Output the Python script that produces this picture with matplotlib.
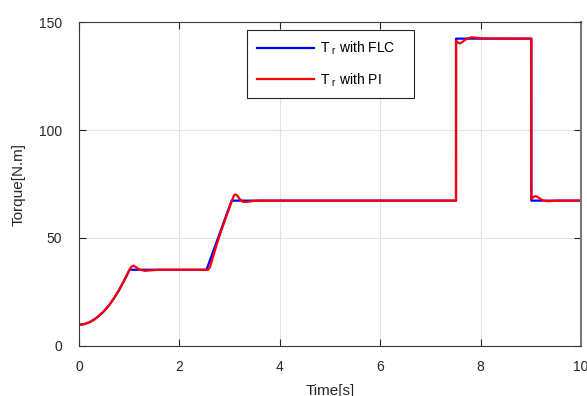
import matplotlib
matplotlib.use("Agg")
import matplotlib.pyplot as plt

plt.rcParams['font.family'] = ['Liberation Sans', 'DejaVu Sans']

# Torque response with the fuzzy logic controller
t_flc = [0.0, 0.1, 0.2, 0.3, 0.4, 0.5, 0.6, 0.7, 0.8, 0.9, 1.0, 1.02,
         2.54, 3.04, 7.51, 7.51, 9.01, 9.01, 10.0]
tr_flc = [9.8, 10.1, 10.9, 12.2, 14.0, 16.2, 18.9, 22.2, 26.0, 30.3, 35.0, 35.3,
          35.3, 67.3, 67.3, 142.3, 142.3, 67.3, 67.3]

# Torque response with the PI controller
t_pi = [0.0, 0.1, 0.2, 0.3, 0.4, 0.5, 0.6, 0.7, 0.8, 0.9, 1.0, 1.04, 1.08,
        1.13, 1.2, 1.31, 1.42, 1.6, 2.57, 2.61, 2.66, 2.75, 2.85, 2.95, 3.0,
        3.04, 3.08, 3.11, 3.15, 3.2, 3.27, 3.35, 3.45, 3.6, 7.51, 7.512, 7.55,
        7.59, 7.64, 7.72, 7.82, 7.92, 8.05, 9.01, 9.012, 9.05, 9.1, 9.16,
        9.24, 9.32, 9.42, 9.55, 10.0]
tr_pi = [9.8, 10.1, 10.9, 12.2, 14.0, 16.2, 18.9, 22.2, 26.0, 30.3, 35.0, 36.6, 37.2,
         36.6, 35.4, 34.8, 35.0, 35.3, 35.3, 36.5, 40.5, 47.5, 54.5, 61.0, 64.3,
         66.8, 69.4, 70.2, 69.7, 68.1, 66.7, 66.7, 67.1, 67.3, 67.3, 141.3, 140.4,
         140.1, 140.8, 142.2, 142.9, 142.7, 142.4, 142.3, 68.0, 69.0, 69.4, 68.6,
         67.4, 67.0, 67.1, 67.3, 67.3]

x_ticks = [0, 2, 4, 6, 8, 10]
y_ticks = [0, 50, 100, 150]

fig = plt.figure(figsize=(5.87, 3.96), dpi=100)
ax = fig.add_axes([0.1346, 0.1263, 0.8552, 0.8181])

ax.plot(t_flc, tr_flc, color='#0000ff', lw=1.6,
        label=r'$\mathregular{T_{\ r}}$ with FLC' + '\u2007' * 2)
ax.plot(t_pi, tr_pi, color='#ff0000', lw=1.6,
        label=r'$\mathregular{T_{\ r}}$ with PI' + '\u2007' * 2)

ax.set_xlim(0, 10)
ax.set_ylim(0, 150)
ax.set_xticks(x_ticks)
ax.set_yticks(y_ticks)
ax.grid(True, color='#e3e3e3', lw=0.8)
ax.set_axisbelow(True)

ax.tick_params(direction='in', length=5, width=0.8, top=True, right=True,
               labelsize=10, colors='#262626', pad=10)
ax.tick_params(axis='y', pad=12)
for sp in ax.spines.values():
    sp.set_color('#3a3a3a')
    sp.set_linewidth(0.8)
ax.spines['right'].set_color('#7a7a7a')
ax.spines['right'].set_linewidth(1.5)

ax.set_xlabel('Time[s]', fontsize=11, color='#262626', labelpad=7)
ax.set_ylabel('Torque[N.m]', fontsize=11, color='#262626', labelpad=10)

leg = ax.legend(loc='upper left', bbox_to_anchor=(0.335, 0.975), borderaxespad=0,
                fontsize=10, handlelength=4.1, labelspacing=1.0, handletextpad=0.45,
                borderpad=0.7, fancybox=False, framealpha=1, edgecolor='#262626')
leg.get_frame().set_linewidth(0.8)

fig.savefig('out.png', dpi=100)
